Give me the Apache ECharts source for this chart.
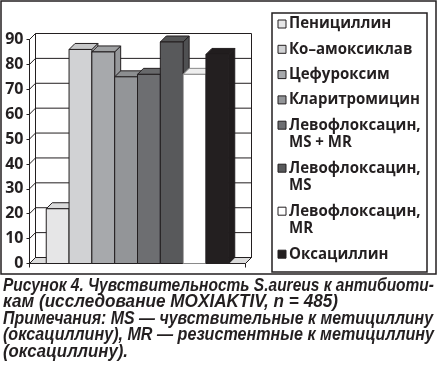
<!DOCTYPE html>
<html><head><meta charset="utf-8">
<script src="https://cdn.jsdelivr.net/npm/echarts@6/dist/echarts.min.js"></script>
<style>html,body{margin:0;padding:0;background:#fff}#c{width:439px;height:366px}</style>
</head><body><div id="c"></div>
<script>
// ---------- data ----------
const categories = [''];
const seriesNames = ['Пенициллин', 'Ко–амоксиклав', 'Цефуроксим', 'Кларитромицин',
  'Левофлоксацин,\nMS + MR', 'Левофлоксацин,\nMS', 'Левофлоксацин,\nMR', 'Оксациллин'];
const seriesValues = [22, 86, 85, 75, 76, 89, 76, 84];
const yTicks = [0, 10, 20, 30, 40, 50, 60, 70, 80, 90];
const captionLines = [
  'Рисунок 4. Чувствительность S.aureus к антибиоти-',
  'кам (исследование MOXIAKTIV, n = 485)',
  'Примечания: MS — чувствительные к метициллину',
  '(оксациллину), MR — резистентные к метициллину',
  '(оксациллину).'
];

// ---------- style ----------
const INK = '#231f20';
const FRONT = ['#e6e6e7', '#d1d2d4', '#a7a9ac', '#939598', '#6d6e71', '#58595b', '#ffffff', '#231f20'];
const EDGE = [INK, INK, INK, INK, INK, INK, '#8a8a8a', INK];
const DX = 6, DY = 6;
const GAP = 0.155;

function shade(hex, f) {
  const n = parseInt(hex.slice(1), 16);
  const r = Math.round(((n >> 16) & 255) * f), g = Math.round(((n >> 8) & 255) * f), b = Math.round((n & 255) * f);
  return 'rgb(' + r + ',' + g + ',' + b + ')';
}

const chart = echarts.init(document.getElementById('c'), null, { renderer: 'canvas' });

function frameRender(params, api) {
  const c0 = api.coord([0, 0]);
  const band = api.size([1, 0])[0];
  const L = c0[0] - band / 2, R = c0[0] + band / 2;
  const y0 = c0[1];
  const yTop = api.coord([0, yTicks[yTicks.length - 1]])[1];
  const ls = { stroke: INK, lineWidth: 1 };
  const ch = [];
  ch.push({ type: 'polygon', shape: { points: [[L, y0], [L + DX, y0 - DY], [R + DX, y0 - DY], [R, y0]] },
    style: { fill: '#dcdcdc', stroke: INK, lineWidth: 1 } });
  ch.push({ type: 'line', shape: { x1: L + DX, y1: yTop - DY, x2: L + DX, y2: y0 - DY }, style: ls });
  ch.push({ type: 'line', shape: { x1: R + DX, y1: yTop - DY, x2: R + DX, y2: y0 - DY }, style: ls });
  yTicks.forEach(v => {
    const y = api.coord([0, v])[1];
    ch.push({ type: 'line', shape: { x1: L, y1: y, x2: L + DX, y2: y - DY }, style: ls });
    ch.push({ type: 'line', shape: { x1: L + DX, y1: y - DY, x2: R + DX, y2: y - DY }, style: ls });
  });
  return { type: 'group', children: ch };
}

function barRender(idx) {
  return function (params, api) {
    const cat = api.value(0), val = api.value(1);
    const base = api.coord([cat, 0]);
    const top = api.coord([cat, val]);
    const band = api.size([1, 0])[0];
    const groupW = band * (1 - GAP);
    const bw = groupW / seriesValues.length;
    const x0 = base[0] - groupW / 2 + idx * bw, x1 = x0 + bw;
    const yb = base[1], yt = top[1];
    const col = FRONT[idx], edge = EDGE[idx];
    return { type: 'group', children: [
      { type: 'polygon', shape: { points: [[x1, yt], [x1 + DX, yt - DY], [x1 + DX, yb - DY], [x1, yb]] },
        style: { fill: idx === 6 ? '#e8e8e8' : shade(col, 0.9), stroke: edge, lineWidth: 1 } },
      { type: 'polygon', shape: { points: [[x0, yt], [x0 + DX, yt - DY], [x1 + DX, yt - DY], [x1, yt]] },
        style: { fill: idx === 6 ? '#eeeeee' : shade(col, 0.95), stroke: edge, lineWidth: 1 } },
      { type: 'rect', shape: { x: x0, y: yt, width: bw, height: yb - yt },
        style: { fill: col, stroke: edge, lineWidth: 1 } }
    ] };
  };
}

// text measurement for fitting condensed typography
const mctx = document.createElement('canvas').getContext('2d');
function measure(text, font) { mctx.font = font; return mctx.measureText(text).width; }

// ---------- legend ----------
const LEG = { x: 272, y: 13, w: 155, h: 259, markX: 278, mark: 8, textX: 289, firstY: 24, step: 25.3, lineH: 17.7 };
const legFontSize = 15.5, legFamily = 'Open Sans', legWeight = 'bold';
const legFont = legWeight + ' ' + legFontSize + 'px "' + legFamily + '"';
const legScale = 131 / measure('Кларитромицин', legFont);
const graphics = [];
graphics.push({ type: 'rect', shape: { x: 1, y: 1, width: 435, height: 273 }, style: { fill: 'none', stroke: INK, lineWidth: 1.5 }, silent: true });
graphics.push({ type: 'rect', shape: { x: LEG.x, y: LEG.y, width: LEG.w, height: LEG.h }, style: { fill: 'none', stroke: INK, lineWidth: 1.5 }, silent: true });
let extra = 0;
seriesNames.forEach((nm, i) => {
  const cy = LEG.firstY + i * LEG.step + extra * LEG.lineH;
  const lines = nm.split('\n');
  graphics.push({ type: 'rect', shape: { x: LEG.markX, y: cy - LEG.mark / 2, width: LEG.mark, height: LEG.mark },
    style: { fill: FRONT[i], stroke: INK, lineWidth: 1 } });
  lines.forEach((ln, j) => {
    graphics.push({ type: 'text', x: LEG.textX, y: cy + j * LEG.lineH, scaleX: legScale,
      style: { text: ln, fontSize: legFontSize, fontFamily: legFamily, fontWeight: legWeight, fill: INK,
        textAlign: 'left', textVerticalAlign: 'middle' } });
  });
  extra += lines.length - 1;
});

// ---------- caption ----------
const CAP = { x: 3, firstY: 286, step: 16.5, widths: [431, 335, 430, 431, 125] };
const capSize = 18, capFamily = 'Liberation Sans';
const capFont = 'italic bold ' + capSize + 'px "' + capFamily + '"';
captionLines.forEach((ln, i) => {
  const s = CAP.widths[i] / measure(ln, capFont);
  graphics.push({ type: 'text', x: CAP.x, y: CAP.firstY + i * CAP.step, scaleX: s,
    style: { text: ln, fontSize: capSize, fontFamily: capFamily, fontWeight: 'bold', fontStyle: 'italic',
      fill: INK, textAlign: 'left', textVerticalAlign: 'middle' } });
});

const series = [{ type: 'custom', name: '__frame', renderItem: frameRender, data: [[0, 0]], clip: false, silent: true, z: 1 }];
seriesNames.forEach((nm, i) => {
  series.push({ type: 'custom', name: nm, renderItem: barRender(i), data: [[0, seriesValues[i]]], clip: false, z: 2,
    itemStyle: { color: FRONT[i] } });
});

chart.setOption({
  animation: false,
  backgroundColor: '#fff',
  grid: { left: 29.5, top: 39.5, width: 216, height: 224 },
  xAxis: { type: 'category', data: categories, boundaryGap: true,
    axisLine: { lineStyle: { color: INK, width: 1 } },
    axisTick: { show: true, length: 4, lineStyle: { color: INK } },
    axisLabel: { show: false }, splitLine: { show: false } },
  yAxis: { type: 'value', min: 0, max: 90, interval: 10,
    axisLine: { show: true, lineStyle: { color: INK, width: 1 } },
    axisTick: { show: true, length: 3, inside: false, lineStyle: { color: INK } },
    splitLine: { show: false },
    axisLabel: { fontSize: 16, fontFamily: 'Open Sans', fontWeight: 'bold', color: INK, margin: 6,
      formatter: v => String(v) } },
  series: series,
  graphic: { elements: graphics }
});
</script></body></html>
